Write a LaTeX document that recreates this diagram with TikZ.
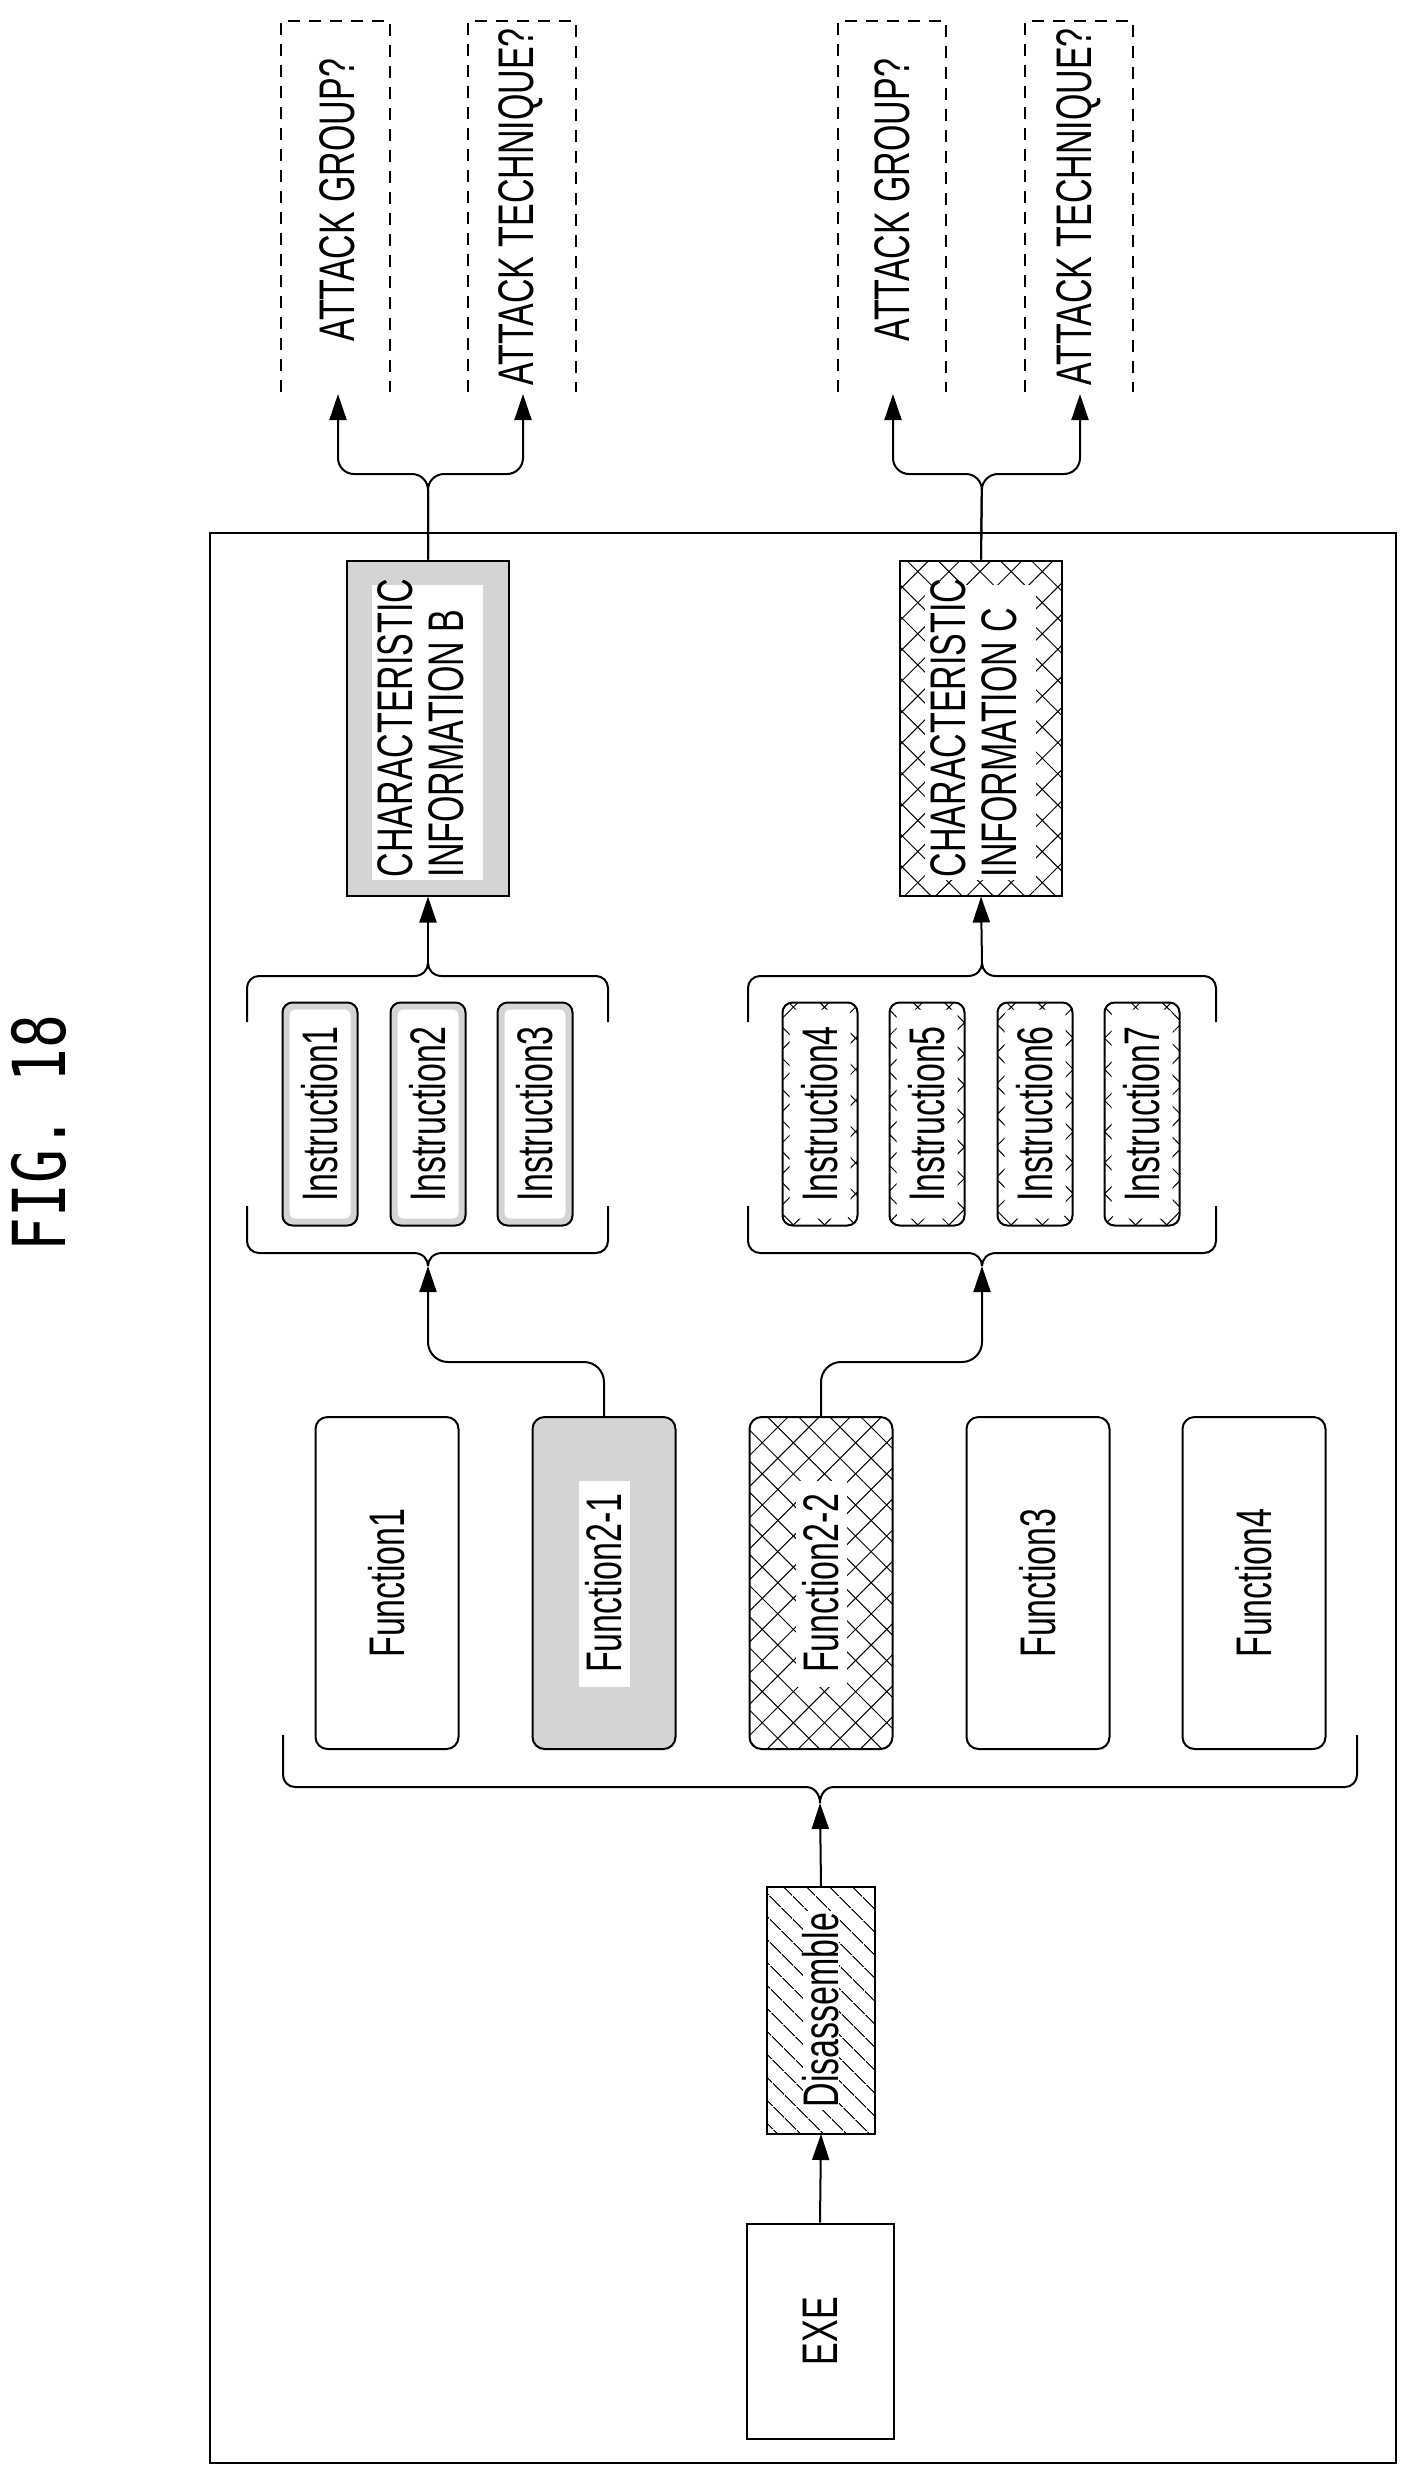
\documentclass[tikz,border=0pt]{standalone}
\usepackage{fontspec}
\setmainfont{Liberation Sans}
\newfontfamily\figfont{DejaVu Sans Mono}
\usetikzlibrary{arrows.meta,patterns.meta,calc}
\newcommand\lbl[1]{\rotatebox{90}{\scalebox{0.68}[1]{\fontsize{50}{51}\selectfont #1}}}
\newcommand\mybrace[6]{%
 \draw[brc,rounded corners=12pt] (#1,#5) -- (#1,#4) -- ({#2-14},#4);
 \draw[brc] ({#2-14},#4) .. controls ({#2-5},#4) and (#2,{(#4+#6)/2}) .. (#2,#6);
 \draw[brc,rounded corners=12pt] (#3,#5) -- (#3,#4) -- ({#2+14},#4);
 \draw[brc] ({#2+14},#4) .. controls ({#2+5},#4) and (#2,{(#4+#6)/2}) .. (#2,#6);}
\begin{document}
\begin{tikzpicture}[x=1pt,y=-1pt,
 box/.style={draw,line width=2pt,inner sep=0pt},
 rbox/.style={box,rounded corners=12pt},
 brc/.style={line width=2pt},
 arr/.style={line width=2pt,-{Triangle[length=26pt,width=17pt]}},
 gray/.style={fill=black!17},
 xhatch/.style={pattern={Lines[angle=45,distance=22pt,line width=1pt]},
   preaction={pattern={Lines[angle=-45,distance=22pt,line width=1pt]}}},
 dsh/.style={line width=1.3pt,dash pattern=on 12pt off 9pt},
 inset/.style n args={4}{path picture={\fill[white,sharp corners] ([shift={(#1pt,-#2pt)}]path picture bounding box.north west) rectangle ([shift={(-#3pt,#4pt)}]path picture bounding box.south east);}},
 func/.style={rbox,minimum height=332pt,minimum width=143pt},
 instr/.style={rbox,rounded corners=10pt,minimum height=223pt,minimum width=75pt,
   path picture={\fill[white,rounded corners=6pt] ([shift={(7pt,-7pt)}]path picture bounding box.north west) rectangle ([shift={(-7pt,7pt)}]path picture bounding box.south east);}},
 charb/.style={box,minimum height=335pt,minimum width=162pt,inset={25}{24}{26}{16}},
 txtbg/.style={inset={46}{64}{46}{62}}
]
\useasboundingbox (0,0) rectangle (1418,2485);
\fill[white] (0,0) rectangle (1418,2485);

\node[inner sep=0pt] (fig) at (39,1133) {\rotatebox{90}{\scalebox{0.77}[1]{\fontsize{73}{75}\figfont FIG. 18}}};

\draw[line width=2pt] (210,533) rectangle (1396,2463);

% attack boxes
\foreach \l/\r in {281/390,468/576,838/946,1025/1133}{
 \draw[dsh] (\l,392) -- (\l,21) -- (\r,21) -- (\r,392);}
\node[inner sep=0pt] (agB) at (337,200) {\lbl{ATTACK GROUP?}};
\node[inner sep=0pt] (atB) at (521,207) {\lbl{ATTACK TECHNIQUE?}};
\node[inner sep=0pt] (agC) at (892,200) {\lbl{ATTACK GROUP?}};
\node[inner sep=0pt] (atC) at (1079,207) {\lbl{ATTACK TECHNIQUE?}};
\coordinate (aB1) at (338,394); \coordinate (aB2) at (523,394);
\coordinate (aC1) at (893,394); \coordinate (aC2) at (1080,394);

% nodes
\node[box,minimum height=215pt,minimum width=147pt] (exe) at (820,2331) {\lbl{EXE}};
\node[box,minimum height=247pt,minimum width=108pt,
  pattern={Lines[angle=-45,distance=17pt,line width=1pt]},inset={36}{24}{36}{24}] (dis) at (821,2010) {\lbl{Disassemble}};

\node[func] (f1) at (387,1583) {\lbl{Function1}};
\node[func,gray,txtbg] (f21) at (604,1583) {\lbl{Function2-1}};
\node[func,xhatch,txtbg] (f22) at (821,1583) {\lbl{Function2-2}};
\node[func] (f3) at (1038,1583) {\lbl{Function3}};
\node[func] (f4) at (1254,1583) {\lbl{Function4}};

\node[instr,gray] (i1) at (320,1114) {\lbl{Instruction1}};
\node[instr,gray] (i2) at (428,1114) {\lbl{Instruction2}};
\node[instr,gray] (i3) at (535,1114) {\lbl{Instruction3}};
\node[instr,xhatch] (i4) at (820,1114) {\lbl{Instruction4}};
\node[instr,xhatch] (i5) at (927,1114) {\lbl{Instruction5}};
\node[instr,xhatch] (i6) at (1035,1114) {\lbl{Instruction6}};
\node[instr,xhatch] (i7) at (1142,1114) {\lbl{Instruction7}};

\node[charb,gray] (cb) at (428,728) {\lbl{\begin{tabular}{@{}l@{}}CHARACTERISTIC\\INFORMATION B\end{tabular}}};
\node[charb,xhatch] (cc) at (981,728) {\lbl{\begin{tabular}{@{}l@{}}CHARACTERISTIC\\INFORMATION C\end{tabular}}};

% braces
\mybrace{283}{820}{1357}{1787}{1735}{1803}
\mybrace{247}{428}{608}{1253}{1206}{1266}
\mybrace{247}{428}{608}{976}{1022}{963}
\mybrace{748}{982}{1216}{1253}{1206}{1266}
\mybrace{748}{982}{1216}{976}{1022}{963}
\coordinate (cF) at (820,1803);
\coordinate (bB) at (428,1266); \coordinate (tB) at (428,963);
\coordinate (bC) at (982,1266); \coordinate (tC) at (982,963);
\coordinate (jB) at (428,1362); \coordinate (jC) at (982,1362);
\coordinate (sB) at (428,474); \coordinate (sC) at (982,474);

% connectors
\draw[arr] (exe.north) -- (dis.south);
\draw[arr] (dis.north) -- (cF);
\draw[arr,rounded corners=20pt] (f21.north) |- (jB) -- (bB);
\draw[arr,rounded corners=20pt] (f22.north) |- (jC) -- (bC);
\draw[arr] (tB) -- (cb.south);
\draw[arr] (tC) -- (cc.south);
\draw[arr,rounded corners=16pt] (cb.north) -- (sB) -| (aB1);
\draw[arr,rounded corners=16pt] (cb.north) -- (sB) -| (aB2);
\draw[arr,rounded corners=16pt] (cc.north) -- (sC) -| (aC1);
\draw[arr,rounded corners=16pt] (cc.north) -- (sC) -| (aC2);
\end{tikzpicture}
\end{document}
